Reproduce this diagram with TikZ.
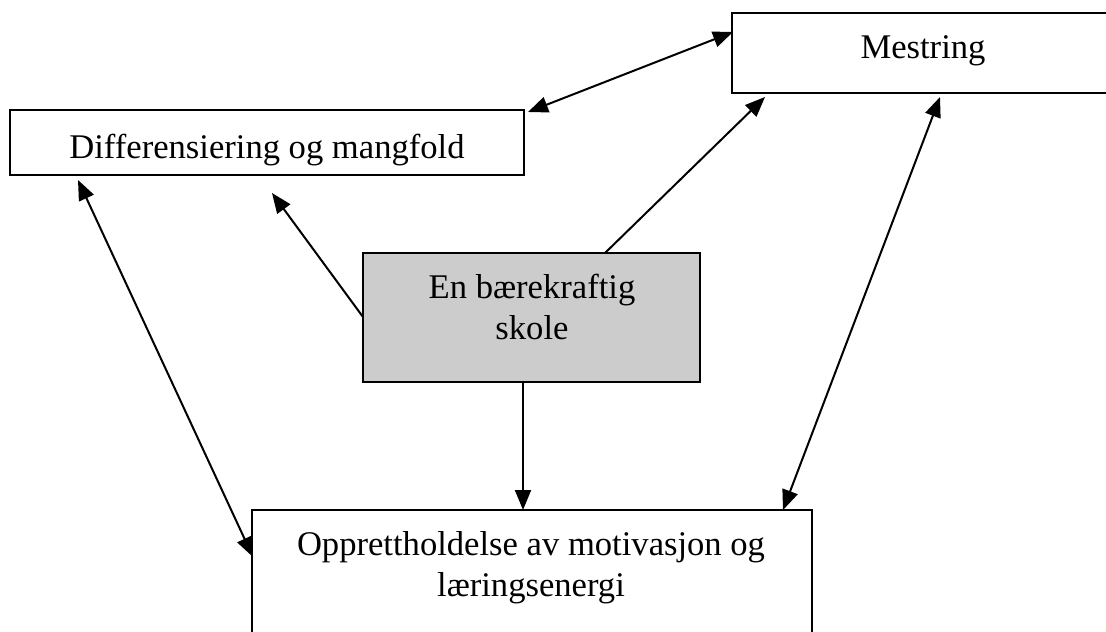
\documentclass[tikz,border=0pt]{standalone}
\usepackage{fontspec}
\setmainfont{Liberation Serif}
\usetikzlibrary{arrows.meta,calc}
\begin{document}
\begin{tikzpicture}[x=1pt,y=-1pt,
  box/.style={draw=black,line width=2.4pt,inner sep=0pt,outer sep=0pt,anchor=north west},
  lbl/.style={anchor=base,inner sep=0pt,font=\fontsize{34.6}{40}\selectfont},
  conn/.style={line width=2pt,-{Triangle[length=20pt,width=16pt]}},
  dconn/.style={line width=2pt,{Triangle[length=20pt,width=16pt]}-{Triangle[length=20pt,width=16pt]}}]
\clip (0,0) rectangle (1106,632);
\fill[white] (0,0) rectangle (1106,632);
% boxes
\node[box,fill=white,minimum width=382pt,minimum height=80pt] (mest) at (732,13) {};
\node[box,fill=white,minimum width=514pt,minimum height=65pt] (diff) at (10,110) {};
\node[box,fill=black!20,minimum width=337pt,minimum height=129pt] (skole) at (363,253) {};
\node[box,fill=white,minimum width=560pt,minimum height=200pt] (oppr) at (252,510) {};
% texts
\node[lbl] (mestT) at (923,58) {Mestring};
\node[lbl] (diffT) at (267,158) {Differensiering og mangfold};
\node[lbl] (skoleT1) at (532,298) {En bærekraftig};
\node[lbl] (skoleT2) at (532,339) {skole};
\node[lbl] (opprT1) at (531,555) {Opprettholdelse av motivasjon og};
\node[lbl] (opprT2) at (531,596) {læringsenergi};
% connectors
\draw[dconn] ($(diff.north east)+(4,2)$) -- ($(mest.north west)+(1,19)$);
\draw[conn] ($(skole.north west)+(0,64)$) -- ($(diff.south west)+(262,18)$);
\draw[conn] ($(skole.north west)+(242,0)$) -- ($(mest.south west)+(33,4)$);
\draw[conn] ($(skole.south west)+(160,0)$) -- ($(oppr.north west)+(271,0)$);
\draw[dconn] ($(mest.south west)+(208,4)$) -- ($(oppr.north west)+(531,0)$);
\draw[dconn] ($(diff.south west)+(68,5)$) -- ($(oppr.north west)+(1,47)$);
\end{tikzpicture}
\end{document}
